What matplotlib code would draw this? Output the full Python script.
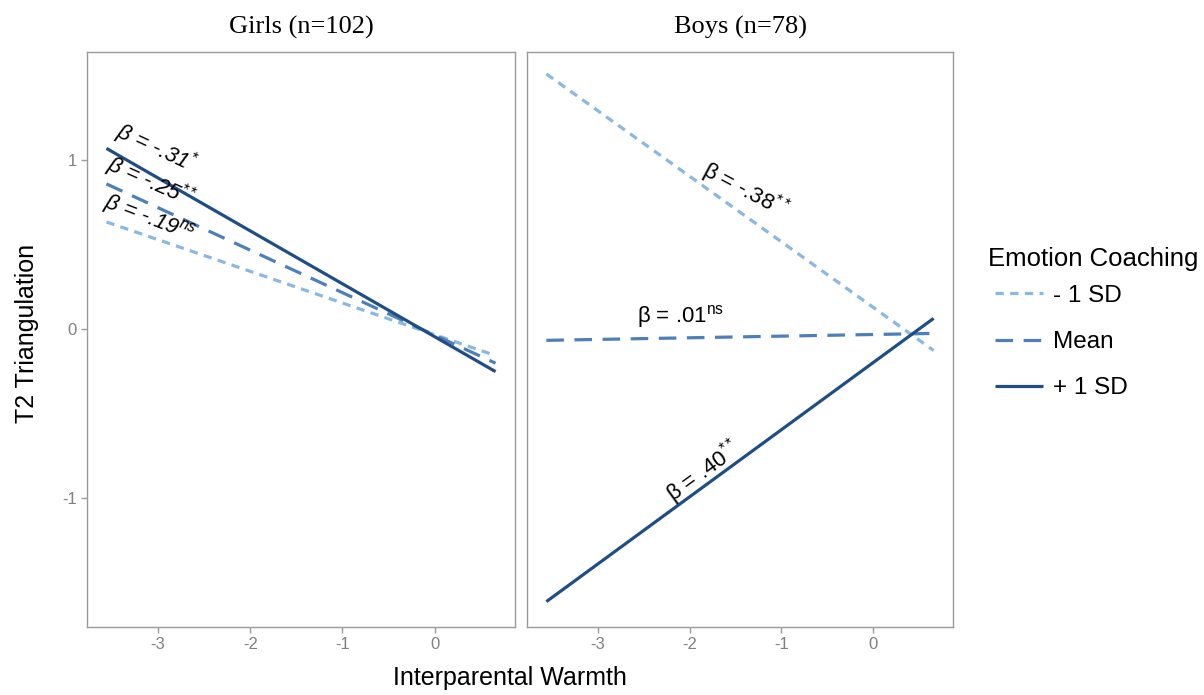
import matplotlib
matplotlib.use("Agg")
import matplotlib.pyplot as plt

# ---- data ----
panels = ["Girls (n=102)", "Boys (n=78)"]
groups = ["- 1 SD", "Mean", "+ 1 SD"]
x_range = [-3.56, 0.66]
girls_start = [0.635, 0.86, 1.07]
girls_end = [-0.155, -0.20, -0.25]
boys_start = [1.51, -0.065, -1.61]
boys_end = [-0.125, -0.024, 0.065]
x_ticks = [-3, -2, -1, 0]
y_ticks = [-1, 0, 1]

girls_labels = [r"$\beta$ = -.19$^{ns}$", r"$\beta$ = -.25$^{**}$", r"$\beta$ = -.31$^{*}$"]
girls_lab_xy = [(-3.10, 0.656), (-3.08, 0.87), (-3.02, 1.07)]
girls_lab_rot = [-21, -24, -25]
boys_labels = ["β = -.38$^{**}$", "β = .01$^{\\mathrm{ns}}$", "β = .40$^{**}$"]
boys_lab_xy = [(-1.39, 0.82), (-2.10, 0.077), (-1.85, -0.84)]
boys_lab_rot = [-28, 0, 36]

colors = ["#8ab8e3", "#4d7fb8", "#1f4e85"]
dash_styles = [(0, (2.6, 2.0)), (0, (5.5, 3.3)), "-"]

plt.rcParams['font.family'] = ['Liberation Sans', 'DejaVu Sans']
plt.rcParams['mathtext.fontset'] = 'custom'
plt.rcParams['mathtext.rm'] = 'Liberation Sans'
plt.rcParams['mathtext.it'] = 'Liberation Sans:italic'

W, H = 1204, 695
fig = plt.figure(figsize=(W/100, H/100), dpi=100)
top, bot = 52, 627
ax1 = fig.add_axes([87/W, 1-bot/H, (515-87)/W, (bot-top)/H])
ax2 = fig.add_axes([527/W, 1-bot/H, (953-527)/W, (bot-top)/H])

data = [(girls_start, girls_end, girls_labels, girls_lab_xy, girls_lab_rot, True),
        (boys_start, boys_end, boys_labels, boys_lab_xy, boys_lab_rot, False)]

handles = []
for ax, title, (st, en, labs, lxy, lrot, ital) in zip([ax1, ax2], panels, data):
    for i in range(3):
        h, = ax.plot(x_range, [st[i], en[i]], color=colors[i], lw=2.3,
                     linestyle=dash_styles[i], solid_capstyle='butt', dash_capstyle='butt')
        if ax is ax1:
            handles.append(h)
        ax.text(lxy[i][0], lxy[i][1], labs[i], rotation=lrot[i], ha='center', va='center',
                fontsize=16, fontstyle='italic' if ital else 'normal', color='black',
                rotation_mode='anchor')
    rng = x_range[1] - x_range[0]
    ax.set_xlim(x_range[0] - 0.05*rng, x_range[1] + 0.05*rng)
    ax.set_ylim(-1.76, 1.64)
    ax.set_xticks(x_ticks)
    ax.set_xticklabels([str(t) for t in x_ticks])
    ax.set_title(title, family=['Liberation Serif', 'DejaVu Serif'], fontsize=19, pad=13)
    for s in ax.spines.values():
        s.set_color('#9a9a9a')
        s.set_linewidth(1.0)
    ax.tick_params(colors='#9a9a9a', labelcolor='#808080', labelsize=12, length=4, width=1)

ax1.set_yticks(y_ticks)
ax1.set_yticklabels([str(t) for t in y_ticks])
ax2.set_yticks([])
fig.text(27/W, 1 - 333/H, "T2 Triangulation", rotation=90, ha='center', va='center', fontsize=18)
fig.text(510/W, 1 - 678/H, "Interparental Warmth", ha='center', va='center', fontsize=18)

fig.text(988/W, 1 - 259/H, "Emotion Coaching", ha='left', va='center', fontsize=18.5)
leg = fig.legend(handles, groups, loc='upper left', bbox_to_anchor=(985/W, 1 - 275/H),
                 frameon=False, fontsize=17.5,
                 handlelength=2.0, labelspacing=1.0, handletextpad=0.4, borderaxespad=0)

fig.savefig("out.png", dpi=100)
